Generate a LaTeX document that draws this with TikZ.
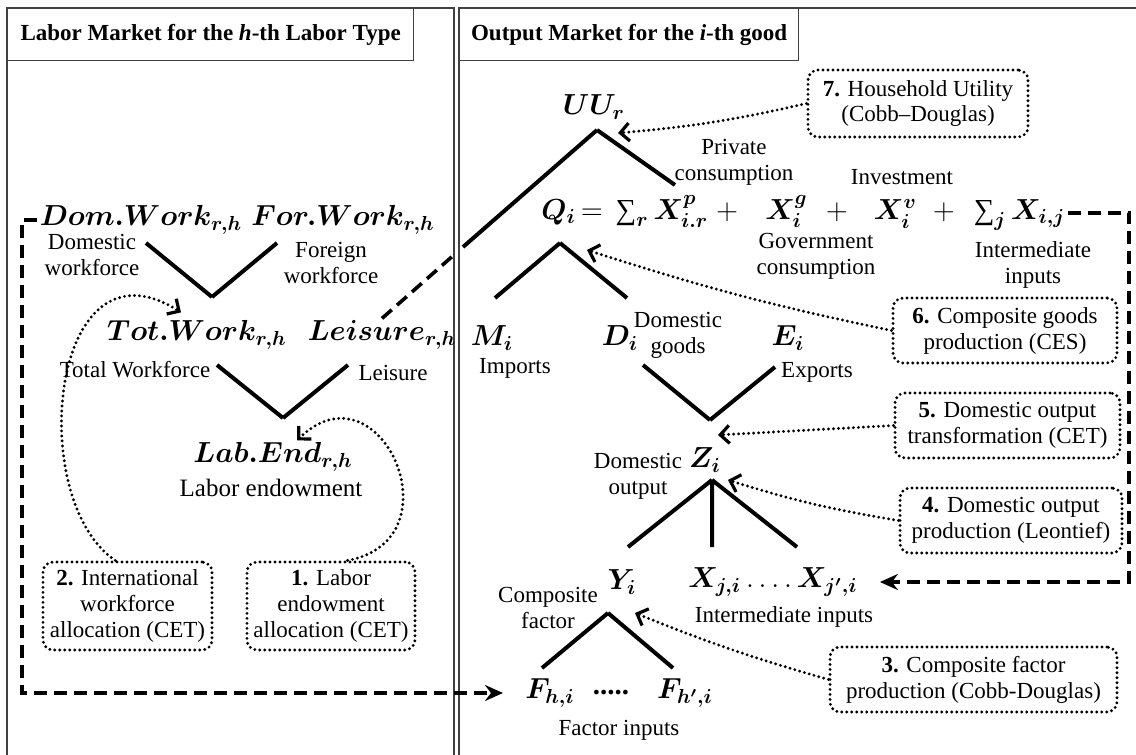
\RequirePackage{fix-cm}
\documentclass[tikz,border=0pt]{standalone}
\usepackage{amsmath}
\usepackage{fontspec}
\setmainfont{Liberation Serif}
\usetikzlibrary{arrows.meta,positioning}
\newcommand{\sumop}{\mathop{\text{∑}}\nolimits}

\begin{document}
\begin{tikzpicture}[
    x=0.5pt, y=0.5pt,
    frame/.style={draw=black!75, line width=0.7pt},
    titlebox/.style={draw=black!75, line width=0.7pt, anchor=north west, minimum height=26pt, inner sep=0pt, font=\fontsize{11.5}{13}\selectfont\bfseries},
    var/.style={font=\fontsize{14.5}{17}\selectfont, inner sep=1pt},
    lbl/.style={font=\fontsize{11.5}{13}\selectfont, align=center, inner sep=1pt},
    stepbox/.style={draw, line width=1.6pt, dash pattern=on 0pt off 2.5pt, line cap=round, rounded corners=5pt, align=center, font=\fontsize{11.5}{13}\selectfont, inner sep=2pt},
    branch/.style={line width=2pt},
    cut/.style={line width=1.8pt, dash pattern=on 6.5pt off 3.5pt},
    link/.style={cut, -{Stealth[length=9pt,width=8pt,inset=3pt]}, shorten >=10pt},
    hint/.style={line width=1.6pt, dash pattern=on 0pt off 2.5pt, line cap=round, -{Straight Barb[length=4.5pt,width=9pt]}}
]
    \useasboundingbox (0,0) rectangle (1136,-755);

    \draw[frame] (7,-760) -- (7,-8) -- (454,-8) -- (454,-760);
    \draw[frame] (459,-760) -- (459,-8) -- (1140,-8);
    \node[titlebox, minimum width=203pt] (labtitle) at (7,-8) {Labor Market for the \textit{h}-th Labor Type};
    \node[titlebox, minimum width=169.5pt] (outtitle) at (459,-8) {Output Market for the \textit{i}-th good};

    % labor market
    \node[var] (domwork) at (141,-220) {$\boldsymbol{Dom.Work_{r,h}}$};
    \node[var] (forwork) at (343,-220) {$\boldsymbol{For.Work_{r,h}}$};
    \node[lbl] (domlbl) at (92,-255) {Domestic\\workforce};
    \node[lbl] (forlbl) at (331,-263) {Foreign\\workforce};
    \node[var] (totwork) at (197,-335) {$\boldsymbol{Tot.Work_{r,h}}$};
    \node[var] (leisure) at (382,-335) {$\boldsymbol{Leisure_{r,h}}$};
    \node[lbl] (totlbl) at (135,-370) {Total Workforce};
    \node[lbl] (leilbl) at (393,-373) {Leisure};
    \node[var] (labend) at (273,-457) {$\boldsymbol{Lab.End_{r,h}}$};
    \node[lbl, font=\fontsize{12.5}{14}\selectfont] (endlbl) at (271,-488) {Labor endowment};
    \node[stepbox, minimum width=84.5pt, minimum height=44pt] (box2) at (127.5,-606) {\textbf{2.} International\\workforce\\allocation (CET)};
    \node[stepbox, minimum width=84pt, minimum height=44pt] (box1) at (331,-606) {\textbf{1.} Labor\\endowment\\allocation (CET)};

    \coordinate (worktop) at (212,-297);
    \coordinate (endtop) at (283,-418);
    \draw[branch] (worktop) -- +(-66,54) (worktop) -- +(65,54);
    \draw[branch] (endtop) -- +(-66,53) (endtop) -- +(65,53);

    % output market
    \node[var] (uu) at (594,-107) {$\boldsymbol{UU_r}$};
    \node[var, anchor=west] (eq) at (539,-213) {$\boldsymbol{Q_i}\hspace{2.5pt}{=}\hspace{4pt}\sumop_{\boldsymbol r}\boldsymbol{X^p_{i.r}}\hspace{4pt}{+}\hspace{13.5pt}\boldsymbol{X^g_i}\hspace{9pt}{+}\hspace{13pt}\boldsymbol{X^v_i}\hspace{8pt}{+}\hspace{7pt}\sumop_{\boldsymbol j}\boldsymbol{X_{i,j}}$};
    \node[lbl] (prvlbl) at (734,-162) {Private\\consumption};
    \node[lbl] (invlbl) at (902,-177) {Investment};
    \node[lbl] (govlbl) at (816,-256) {Government\\consumption};
    \node[lbl] (intlbl) at (1033,-265) {Intermediate\\inputs};
    \node[stepbox, minimum width=110pt, minimum height=33.5pt] (box7) at (918,-103.5) {\textbf{7.} Household Utility\\(Cobb--Douglas)};

    \node[var] (m) at (492,-338) {$\boldsymbol{M_i}$};
    \node[lbl] (implbl) at (515,-368) {Imports};
    \node[var] (d) at (620,-338) {$\boldsymbol{D_i}$};
    \node[lbl] (dgdlbl) at (678,-335) {Domestic\\goods};
    \node[var] (e) at (788,-338) {$\boldsymbol{E_i}$};
    \node[lbl] (explbl) at (817,-372) {Exports};
    \node[stepbox, minimum width=112pt, minimum height=32.5pt] (box6) at (1005,-330.5) {\textbf{6.} Composite goods\\production (CES)};
    \node[stepbox, minimum width=112.5pt, minimum height=32.5pt] (box5) at (1007.5,-425.5) {\textbf{5.} Domestic output\\transformation (CET)};

    \node[var] (z) at (705,-460) {$\boldsymbol{Z_i}$};
    \node[lbl] (doutlbl) at (638,-476) {Domestic\\output};
    \node[stepbox, minimum width=111pt, minimum height=32.5pt] (box4) at (1011,-520.5) {\textbf{4.} Domestic output\\production (Leontief)};

    \node[var] (y) at (622,-582) {$\boldsymbol{Y_i}$};
    \node[var] (xs) at (773,-582) {$\boldsymbol{X_{j,i}}\,.\,.\,.\,.\,\boldsymbol{X_{j',i}}$};
    \node[lbl] (inplbl) at (784,-617) {Intermediate inputs};
    \node[lbl] (cflbl) at (548,-608) {Composite\\factor};
    \node[stepbox, minimum width=143.5pt, minimum height=32.5pt] (box3) at (973.5,-679.5) {\textbf{3.} Composite factor\\production (Cobb-Douglas)};

    \node[var] (f1) at (550,-693) {$\boldsymbol{F_{h,i}}$};
    \node[var] (fdots) at (611,-693) {\bfseries .....};
    \node[var] (f2) at (685,-693) {$\boldsymbol{F_{h',i}}$};
    \node[lbl] (facinp) at (619,-730) {Factor inputs};

    \coordinate (uutop) at (597,-130);
    \coordinate (qtop) at (560,-243);
    \coordinate (detop) at (710,-420);
    \coordinate (ztop) at (712,-480);
    \coordinate (ytop) at (608,-613);
    \coordinate (uubreak) at (455,-254);
    \coordinate (lcorner) at (22,-220);
    \coordinate (rcorner) at (1129,-213);

    \draw[branch] (uutop) -- +(78,-55) (uutop) -- +(-134,-117);
    \draw[branch] (qtop) -- +(-65,-55) (qtop) -- +(67,-55);
    \draw[branch] (detop) -- +(-67,55) (detop) -- +(65,53);
    \draw[branch] (ztop) -- +(-84,-67) (ztop) -- +(0,-67) (ztop) -- +(85,-67);
    \draw[branch] (ytop) -- +(-66,-55) (ytop) -- +(65,-55);

    \draw[cut] (leisure.north) -- (uubreak);
    \draw[link] (domwork.west) -- (lcorner) |- (f1.west);
    \draw[link] (eq.east) -- (rcorner) |- (xs.east);

    \draw[hint] (box2.105) .. controls (25,-500) and (50,-230) .. ([xshift=-8pt,yshift=3pt]totwork.north);
    \draw[hint] (box1.70) .. controls (460,-540) and (380,-360) .. ([xshift=12pt]labend.north);
    \draw[hint] (box7.west) to[bend left=4] ([xshift=10.5pt,yshift=-1.5pt]uutop);
    \draw[hint] (box6.west) to[bend left=3] ([xshift=13.5pt,yshift=-3.5pt]qtop);
    \draw[hint] (box5.west) -- ([xshift=4pt,yshift=-7.5pt]detop);
    \draw[hint] (box4.west) to[bend left=4] ([xshift=8pt]ztop);
    \draw[hint] (box3.west) to[bend left=3] ([xshift=13.5pt]ytop);
\end{tikzpicture}
\end{document}
